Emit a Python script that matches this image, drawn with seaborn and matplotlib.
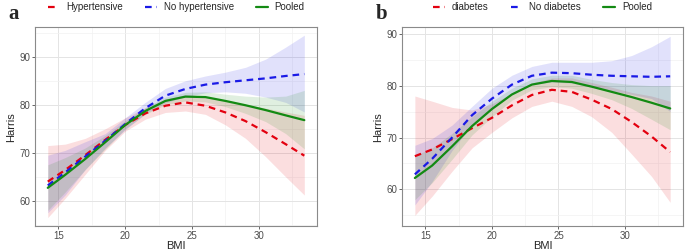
"""Harris score vs BMI, stratified smooths (panels a and b)"""

import numpy as np
import pandas as pd
import matplotlib
matplotlib.use('Agg')
import matplotlib.pyplot as plt
import seaborn as sns
from matplotlib.ticker import MultipleLocator

sns.set_theme(style='whitegrid')
plt.rcParams['font.family'] = ['Liberation Sans', 'DejaVu Sans']

# BMI grid where the curves were read
bmi = [14.2, 15.5, 17, 18.5, 20, 21.5, 23, 24.5, 26, 27.5, 29, 30.5, 32, 33.4]

# Panel a: hypertension
a_hyp = [64.0, 66.4, 69.5, 72.7, 75.8, 78.2, 79.8, 80.5, 79.8, 78.4, 76.6, 74.3, 71.8, 69.4]
a_hyp_lo = [56.5, 60.5, 65.5, 70.5, 74.5, 77.0, 78.4, 78.7, 78.0, 75.8, 73.0, 69.2, 65.0, 61.2]
a_hyp_hi = [71.5, 71.8, 73.0, 75.0, 77.3, 79.4, 81.2, 82.1, 81.8, 80.8, 80.1, 79.3, 78.5, 77.8]
a_nohyp = [63.2, 65.9, 69.2, 72.5, 76.0, 79.3, 81.9, 83.3, 84.2, 84.7, 85.1, 85.5, 86.0, 86.4]
a_nohyp_lo = [57.5, 61.2, 66.5, 71.0, 74.8, 78.2, 80.4, 81.7, 82.5, 82.7, 82.4, 81.6, 80.5, 78.5]
a_nohyp_hi = [69.5, 70.5, 72.3, 74.0, 77.3, 80.5, 83.4, 85.0, 86.0, 86.8, 87.8, 89.5, 92.0, 94.5]
a_pool = [62.7, 65.4, 68.7, 72.2, 75.8, 78.7, 80.8, 81.7, 81.6, 80.8, 79.9, 78.9, 77.8, 76.8]
a_pool_lo = [58.0, 61.8, 66.5, 70.8, 75.0, 78.0, 80.0, 80.8, 80.6, 79.6, 78.2, 76.5, 74.0, 70.8]
a_pool_hi = [67.5, 69.0, 71.0, 73.6, 76.7, 79.4, 81.6, 82.6, 82.7, 82.2, 81.8, 81.6, 81.8, 83.0]

# Panel b: diabetes
b_dia = [66.4, 67.7, 69.7, 71.8, 73.8, 76.2, 78.2, 79.2, 78.8, 77.3, 75.5, 73.0, 70.2, 67.2]
b_dia_lo = [55.0, 58.7, 63.5, 68.0, 71.0, 73.8, 76.0, 77.0, 76.0, 74.0, 71.0, 66.8, 62.5, 57.5]
b_dia_hi = [78.0, 77.0, 75.8, 75.3, 76.5, 78.5, 80.5, 81.5, 81.5, 80.6, 79.7, 78.7, 78.0, 77.0]
b_nodia = [62.9, 65.9, 70.0, 74.3, 77.5, 80.2, 81.9, 82.5, 82.4, 82.1, 81.9, 81.8, 81.7, 81.8]
b_nodia_lo = [57.0, 61.5, 67.5, 72.5, 75.5, 78.5, 80.2, 80.7, 80.5, 79.7, 79.0, 78.3, 77.5, 75.0]
b_nodia_hi = [68.5, 69.8, 72.4, 76.0, 79.5, 82.0, 83.7, 84.5, 84.5, 84.5, 84.8, 85.8, 87.5, 89.5]
b_pool = [62.2, 64.6, 68.3, 72.2, 75.5, 78.3, 80.2, 80.9, 80.7, 79.8, 78.8, 77.8, 76.7, 75.6]
b_pool_lo = [58.0, 61.3, 65.8, 70.5, 74.0, 77.2, 79.2, 79.8, 79.5, 78.5, 77.3, 75.6, 73.5, 71.5]
b_pool_hi = [66.5, 68.0, 70.8, 74.0, 77.0, 79.5, 81.3, 82.0, 82.0, 81.2, 80.6, 80.2, 80.0, 80.0]

RED, BLUE, GREEN = '#E3000F', '#1A1AE6', '#138A13'


def panel(ax, series, letter, ylim):
    names = [s[0] for s in series]
    rows = []
    for name, y, lo, hi, col in series:
        ax.fill_between(bmi, lo, hi, color=col, alpha=0.13, linewidth=0)
        rows += [{'BMI': x, 'Harris': v, 'group': name} for x, v in zip(bmi, y)]
    df = pd.DataFrame(rows)
    pal = {s[0]: s[4] for s in series}
    dashes = {names[0]: (3, 2.2), names[1]: (3, 2.2), names[2]: ''}
    sns.lineplot(data=df, x='BMI', y='Harris', hue='group', style='group',
                 hue_order=names, style_order=names, palette=pal, dashes=dashes,
                 linewidth=1.6, ax=ax)
    ax.set_xlim(13.24, 34.36)
    ax.set_ylim(*ylim)
    ax.xaxis.set_major_locator(MultipleLocator(5))
    ax.xaxis.set_minor_locator(MultipleLocator(2.5))
    ax.yaxis.set_major_locator(MultipleLocator(10))
    ax.yaxis.set_minor_locator(MultipleLocator(5))
    ax.grid(which='major', color='#E4E4E4', linewidth=0.7)
    ax.grid(which='minor', color='#F2F2F2', linewidth=0.5)
    for sp in ax.spines.values():
        sp.set_color('#8A8A8A')
        sp.set_linewidth(0.8)
    ax.tick_params(axis='both', which='major', labelsize=7, colors='#4D4D4D',
                   length=2.5, width=0.6, direction='out', pad=1,
                   bottom=True, left=True)
    ax.tick_params(which='minor', length=0)
    ax.set_xlabel('BMI', fontsize=8, labelpad=0)
    ax.set_ylabel('Harris', fontsize=8, labelpad=2)
    ax.legend(loc='lower center', bbox_to_anchor=(0.5, 1.055), ncol=3,
              frameon=False, fontsize=7, handlelength=1.2,
              columnspacing=2.3, borderaxespad=0, handletextpad=0.7)
    ax.text(-0.095, 1.115, letter, transform=ax.transAxes, fontsize=15,
            fontweight='bold', family='Liberation Serif', va='top')


fig = plt.figure(figsize=(6.85, 2.5), dpi=100)
ax1 = fig.add_axes([0.051, 0.095, 0.412, 0.797])
ax2 = fig.add_axes([0.587, 0.095, 0.410, 0.797])

panel(ax1, [('Hypertensive', a_hyp, a_hyp_lo, a_hyp_hi, RED),
            ('No hypertensive', a_nohyp, a_nohyp_lo, a_nohyp_hi, BLUE),
            ('Pooled', a_pool, a_pool_lo, a_pool_hi, GREEN)], 'a', (54.7, 96.2))
panel(ax2, [('diabetes', b_dia, b_dia_lo, b_dia_hi, RED),
            ('No diabetes', b_nodia, b_nodia_lo, b_nodia_hi, BLUE),
            ('Pooled', b_pool, b_pool_lo, b_pool_hi, GREEN)], 'b', (52.9, 91.3))

fig.savefig('out.png', dpi=100)
plt.close(fig)
